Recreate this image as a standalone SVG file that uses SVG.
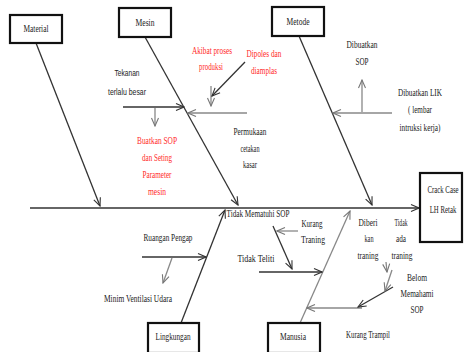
<svg xmlns="http://www.w3.org/2000/svg" width="464" height="352" viewBox="0 0 464 352">
<style>
.box{fill:#fff;stroke:#111;stroke-width:2.2}
.t{font-family:"Liberation Serif","Times New Roman",serif;font-size:10px;fill:#222;text-anchor:middle}
.s{font-family:"Liberation Sans",Arial,sans-serif;font-size:9.5px;fill:#222;text-anchor:middle}
.r{fill:#ff2a2a}
.d{stroke:#333;stroke-width:1.3;fill:none;marker-end:url(#ad)}
.g{stroke:#888;stroke-width:1.3;fill:none;marker-end:url(#ag)}
</style>
<defs>
<marker id="ad" viewBox="-1 -5 10 10" refX="8" refY="0" markerWidth="10" markerHeight="10" markerUnits="userSpaceOnUse" orient="auto">
<path d="M0,-3.5 L8,0 L0,3.5" fill="none" stroke="#333" stroke-width="1.1"/>
</marker>
<marker id="ag" viewBox="-1 -5 10 10" refX="8" refY="0" markerWidth="10" markerHeight="10" markerUnits="userSpaceOnUse" orient="auto">
<path d="M0,-3.5 L8,0 L0,3.5" fill="none" stroke="#777" stroke-width="1.1"/>
</marker>
</defs>
<rect width="464" height="352" fill="#fff"/>
<g id="connectors">
<path class="d" d="M30,208 L419,208" stroke-width="1.6"/>
<path class="d" d="M36,43 L100,206"/>
<path class="d" d="M145,37 L238,205"/>
<path class="d" d="M299,36 L372,205"/>
<path class="d" d="M181,323 L225,210"/>
<path class="g" d="M300,323 L350,211"/>
<path class="d" d="M123,107 L184,107"/>
<path class="g" d="M155,108 L155,126"/>
<path class="g" d="M247,113 L188,113"/>
<path class="g" d="M211,86 L211,106"/>
<path class="d" d="M245,62 L212,96"/>
<path class="g" d="M392,113 L333,113"/>
<path class="g" d="M362,112 L362,80"/>
<path class="d" d="M142,257 L206,257"/>
<path class="g" d="M172,258 L163,283"/>
<path class="d" d="M273,226 L292,269"/>
<path class="g" d="M298,231 L277,231"/>
<path class="d" d="M259,272 L322,272"/>
<path class="g" d="M362,308 L307,308"/>
<path class="d" d="M393,287 L358,307"/>
<path class="g" d="M386,262 L387,272"/>
<path class="g" d="M392,270 L385,291"/>
</g>
<g id="material"><rect class="box" x="10" y="15" width="52" height="28"/><text class="t" x="36" y="32" textLength="25" lengthAdjust="spacingAndGlyphs">Material</text></g>
<g id="mesin"><rect class="box" x="119" y="8" width="52" height="29"/><text class="t" x="145" y="26" textLength="19" lengthAdjust="spacingAndGlyphs">Mesin</text></g>
<g id="metode"><rect class="box" x="272" y="7" width="52" height="29"/><text class="t" x="298" y="25" textLength="23" lengthAdjust="spacingAndGlyphs">Metode</text></g>
<g id="crack"><rect class="box" x="420" y="173" width="42" height="69"/><text class="t" transform="translate(443,193) scale(0.68,1)">Crack Case</text><text class="t" transform="translate(443,213) scale(0.68,1)">LH Retak</text></g>
<g id="lingkungan"><rect class="box" x="148" y="323" width="51" height="30"/><text class="t" x="173" y="340" textLength="35" lengthAdjust="spacingAndGlyphs">Lingkungan</text></g>
<g id="manusia"><rect class="box" x="268" y="323" width="52" height="30"/><text class="t" x="293" y="340" textLength="26" lengthAdjust="spacingAndGlyphs">Manusia</text></g>
<g id="labels">
<text class="s" x="127" y="76" textLength="25" lengthAdjust="spacingAndGlyphs">Tekanan</text>
<text class="s" x="127" y="95" textLength="38" lengthAdjust="spacingAndGlyphs">terlalu besar</text>
<text class="t r" x="212" y="54" textLength="40" lengthAdjust="spacingAndGlyphs">Akibat proses</text>
<text class="t r" x="211" y="70" textLength="24" lengthAdjust="spacingAndGlyphs">produksi</text>
<text class="t r" x="264" y="57" textLength="35" lengthAdjust="spacingAndGlyphs">Dipoles dan</text>
<text class="t r" x="264" y="74" textLength="26" lengthAdjust="spacingAndGlyphs">diamplas</text>
<text class="t" x="362" y="48" textLength="31" lengthAdjust="spacingAndGlyphs">Dibuatkan</text>
<text class="t" x="362" y="65" textLength="13" lengthAdjust="spacingAndGlyphs">SOP</text>
<text class="t" x="420" y="96" textLength="44" lengthAdjust="spacingAndGlyphs">Dibuatkan LIK</text>
<text class="t" x="420" y="113" textLength="24" lengthAdjust="spacingAndGlyphs">( lembar</text>
<text class="t" x="420" y="131" textLength="41" lengthAdjust="spacingAndGlyphs">intruksi kerja)</text>
<text class="t" x="250" y="135" textLength="33" lengthAdjust="spacingAndGlyphs">Permukaan</text>
<text class="t" x="250" y="152" textLength="19" lengthAdjust="spacingAndGlyphs">cetakan</text>
<text class="t" x="250" y="168" textLength="14" lengthAdjust="spacingAndGlyphs">kasar</text>
<text class="t r" x="157" y="144" textLength="40" lengthAdjust="spacingAndGlyphs">Buatkan SOP</text>
<text class="t r" x="157" y="161" textLength="30" lengthAdjust="spacingAndGlyphs">dan Seting</text>
<text class="t r" x="157" y="178" textLength="29" lengthAdjust="spacingAndGlyphs">Parameter</text>
<text class="t r" x="157" y="195" textLength="18" lengthAdjust="spacingAndGlyphs">mesin</text>
<text class="t" x="258" y="217" textLength="63" lengthAdjust="spacingAndGlyphs">Tidak Mematuhi SOP</text>
<text class="t" x="312" y="227" textLength="21" lengthAdjust="spacingAndGlyphs">Kurang</text>
<text class="t" x="313" y="243" textLength="24" lengthAdjust="spacingAndGlyphs">Traning</text>
<text class="t" x="256" y="262" textLength="37" lengthAdjust="spacingAndGlyphs">Tidak Teliti</text>
<text class="t" x="368" y="226" textLength="19" lengthAdjust="spacingAndGlyphs">Diberi</text>
<text class="t" x="369" y="242" textLength="9" lengthAdjust="spacingAndGlyphs">kan</text>
<text class="t" x="368" y="259" textLength="21" lengthAdjust="spacingAndGlyphs">traning</text>
<text class="t" x="401" y="226" textLength="13" lengthAdjust="spacingAndGlyphs">Tidak</text>
<text class="t" x="401" y="242" textLength="10" lengthAdjust="spacingAndGlyphs">ada</text>
<text class="t" x="402" y="259" textLength="21" lengthAdjust="spacingAndGlyphs">traning</text>
<text class="t" x="417" y="281" textLength="20" lengthAdjust="spacingAndGlyphs">Belom</text>
<text class="t" x="417" y="297" textLength="33" lengthAdjust="spacingAndGlyphs">Memahami</text>
<text class="t" x="417" y="313" textLength="13" lengthAdjust="spacingAndGlyphs">SOP</text>
<text class="t" x="368" y="338" textLength="44" lengthAdjust="spacingAndGlyphs">Kurang Trampil</text>
<text class="t" x="168" y="241" textLength="49" lengthAdjust="spacingAndGlyphs">Ruangan Pengap</text>
<text class="t" x="138" y="302" textLength="68" lengthAdjust="spacingAndGlyphs">Minim Ventilasi Udara</text>
</g>
</svg>
